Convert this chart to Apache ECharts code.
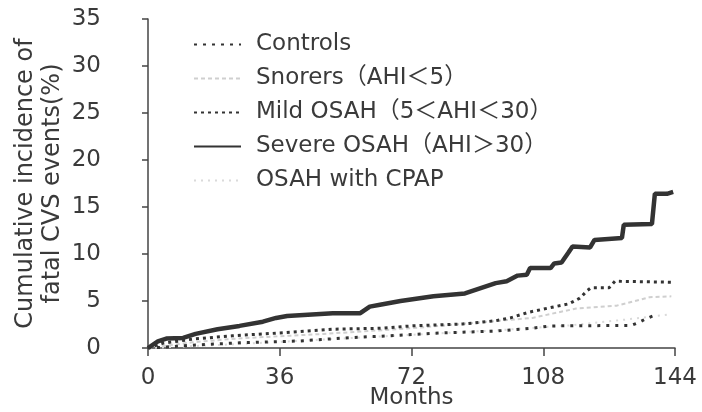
<!DOCTYPE html>
<html>
<head>
<meta charset="utf-8">
<script src="https://cdn.jsdelivr.net/npm/echarts@6/dist/echarts.min.js"></script>
<style>html,body{margin:0;padding:0;background:#fff}#c{width:702px;height:412px}</style>
</head>
<body>
<div id="c"></div>
<script>
var seriesNames = ['Controls', 'Snorers（AHI＜5）', 'Mild OSAH（5＜AHI＜30）', 'Severe OSAH（AHI＞30）', 'OSAH with CPAP'];
var xTicks = [0, 36, 72, 108, 144];
var yTicks = [0, 5, 10, 15, 20, 25, 30, 35];

var controlsMonths = [0, 5, 12, 25, 41.5, 55, 66, 80, 95, 105, 110, 132, 134, 136, 138.5];
var controlsValues = [0, 0.1, 0.3, 0.55, 0.75, 1.1, 1.3, 1.6, 1.8, 2.1, 2.35, 2.4, 2.7, 3.1, 3.5];

var snorersMonths = [0, 12, 24, 48, 72, 90, 105, 117, 128, 137, 143];
var snorersValues = [0, 0.6, 1.0, 1.5, 2.1, 2.7, 3.2, 4.2, 4.5, 5.4, 5.5];

var mildMonths = [0, 4, 12.3, 23, 36, 50.5, 63.4, 72, 86, 95, 99, 104, 110, 115, 118, 120, 121, 126, 127.6, 143];
var mildValues = [0, 0.5, 0.95, 1.3, 1.6, 2.0, 2.1, 2.35, 2.55, 2.9, 3.2, 3.8, 4.3, 4.7, 5.3, 6.1, 6.4, 6.4, 7.1, 7.0];

var severeMonths = [0, 2.7, 5, 9.6, 13, 19, 25, 31.4, 35, 38, 50.5, 58, 60.6, 63.4, 69, 78, 86.6, 95, 98, 101, 103.5, 104.4, 110, 111, 113, 114.8, 116, 120.8, 122, 129.5, 130, 137.7, 138.5, 141.8, 143.5];
var severeValues = [0, 0.7, 1.0, 1.07, 1.5, 2.0, 2.35, 2.8, 3.2, 3.4, 3.7, 3.7, 4.4, 4.6, 5.0, 5.5, 5.8, 6.9, 7.1, 7.7, 7.8, 8.5, 8.5, 9.0, 9.1, 10.1, 10.8, 10.7, 11.5, 11.7, 13.1, 13.2, 16.4, 16.4, 16.6];

var cpapMonths = [0, 24, 48, 72, 96, 115, 130, 143];
var cpapValues = [0, 0.4, 0.9, 1.4, 1.9, 2.4, 3.0, 3.6];

function zip(a, b) { return a.map(function (m, i) { return [m, b[i]]; }); }

var FONT = "'DejaVu Sans', 'Noto Sans CJK JP', sans-serif";
var TXT = '#3a3a3a';
var chart = echarts.init(document.getElementById('c'), null, {renderer: 'canvas'});
chart.setOption({
  animation: false,
  backgroundColor: '#fff',
  textStyle: {fontFamily: FONT, color: TXT},
  grid: {left: 148, right: 27, top: 19, bottom: 64, containLabel: false, outerBoundsMode: 'none'},
  legend: {
    orient: 'vertical', left: 188, top: 27,
    itemWidth: 47, itemHeight: 14, itemGap: 9,
    data: seriesNames,
    itemStyle: {opacity: 0, borderWidth: 0},
    textStyle: {fontFamily: FONT, fontSize: 23, color: TXT, lineHeight: 25, padding: [0, 0, 0, 10]}
  },
  xAxis: {
    type: 'value', min: 0, max: 144, interval: 36,
    name: 'Months', nameLocation: 'middle', nameGap: 39, nameMoveOverlap: false,
    nameTextStyle: {fontFamily: FONT, fontSize: 23, color: TXT},
    axisLine: {show: true, lineStyle: {color: '#444', width: 1.5}},
    axisTick: {show: true, length: 8, lineStyle: {color: '#444', width: 1.5}},
    axisLabel: {fontFamily: FONT, fontSize: 23, color: TXT, margin: 19,
      formatter: function (v) { return xTicks.indexOf(v) >= 0 ? String(v) : ''; }},
    splitLine: {show: false}
  },
  yAxis: {
    type: 'value', min: 0, max: 35, interval: 5, offset: 34,
    name: 'Cumulative incidence of\nfatal CVS events(%)', nameLocation: 'middle', nameGap: 48, nameMoveOverlap: false,
    nameTextStyle: {fontFamily: FONT, fontSize: 24, color: TXT, lineHeight: 27},
    axisLine: {show: true, lineStyle: {color: '#444', width: 1.5}},
    axisTick: {show: true, length: 6, lineStyle: {color: '#444', width: 1.5}},
    axisLabel: {fontFamily: FONT, fontSize: 23, color: TXT, margin: 13,
      formatter: function (v) { return yTicks.indexOf(v) >= 0 ? String(v) : ''; }},
    splitLine: {show: false}
  },
  series: [
    {name: seriesNames[0], type: 'line', symbol: 'none', z: 3, data: zip(controlsMonths, controlsValues),
     lineStyle: {color: '#333', width: 3, type: [3, 6], cap: 'butt'}, itemStyle: {color: '#333'}},
    {name: seriesNames[1], type: 'line', symbol: 'none', z: 2, data: zip(snorersMonths, snorersValues),
     lineStyle: {color: '#cfcfcf', width: 2, type: [4, 3]}, itemStyle: {color: '#cfcfcf'}},
    {name: seriesNames[2], type: 'line', symbol: 'none', z: 3, data: zip(mildMonths, mildValues),
     lineStyle: {color: '#333', width: 3, type: [3, 4], cap: 'butt'}, itemStyle: {color: '#333'}},
    {name: seriesNames[3], type: 'line', symbol: 'none', z: 4, data: zip(severeMonths, severeValues),
     lineStyle: {color: '#333', width: 4.5}, itemStyle: {color: '#333'}},
    {name: seriesNames[4], type: 'line', symbol: 'none', z: 2, data: zip(cpapMonths, cpapValues),
     lineStyle: {color: '#dadada', width: 2, type: [2, 5]}, itemStyle: {color: '#dadada'}}
  ]
});
</script>
</body>
</html>
